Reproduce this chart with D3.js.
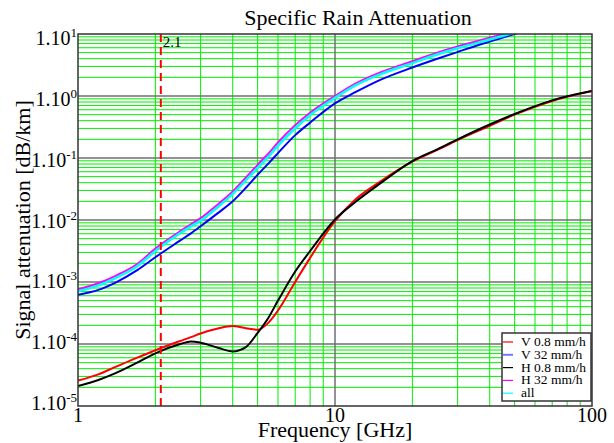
<!DOCTYPE html>
<html>
<head>
<meta charset="UTF-8">
<title>Specific Rain Attenuation</title>
<script src="https://d3js.org/d3.v7.min.js"></script>
<style>
  body { margin: 0; background: #fff; }
  svg { display: block; font-family: "Liberation Serif", "Times New Roman", serif; }
</style>
</head>
<body>
<div id="chart"></div>
<script>
// frequency grid [GHz]
const freq = [1, 1.2, 1.4, 1.7, 2, 2.5, 2.75, 3, 3.5, 4, 4.5, 5, 5.5, 6, 7, 8, 10, 12, 15, 20, 25, 30, 40, 50, 70, 100];

// specific attenuation [dB/km]
const v08 = [2.57e-5, 3.24e-5, 4.27e-5, 6.03e-5, 7.94e-5, 1.12e-4, 1.29e-4, 1.48e-4, 1.78e-4, 1.95e-4, 1.8e-4, 1.7e-4, 2.19e-4, 3.47e-4, 1.0e-3, 2.45e-3, 9.55e-3, 0.0214, 0.0417, 0.0871, 0.135, 0.195, 0.331, 0.501, 0.832, 1.2];
const v32 = [6.2e-4, 7.45e-4, 9.8e-4, 1.55e-3, 2.51e-3, 4.68e-3, 6.1e-3, 7.94e-3, 0.0129, 0.02, 0.0331, 0.0537, 0.0813, 0.12, 0.234, 0.372, 0.762, 1.15, 1.82, 2.88, 3.98, 5.13, 7.59, 10.0, 14.8, 22.4];
const h08 = [2.1e-5, 2.63e-5, 3.39e-5, 5.01e-5, 7.08e-5, 1.0e-4, 1.1e-4, 1.05e-4, 8.71e-5, 7.59e-5, 8.91e-5, 1.51e-4, 2.63e-4, 5.01e-4, 1.48e-3, 3.16e-3, 0.0102, 0.0195, 0.0389, 0.0891, 0.138, 0.2, 0.347, 0.513, 0.851, 1.2];
const h32 = [7.62e-4, 9.55e-4, 1.26e-3, 1.95e-3, 3.47e-3, 6.61e-3, 8.5e-3, 0.0107, 0.0178, 0.0288, 0.0484, 0.0776, 0.117, 0.178, 0.339, 0.537, 1.0, 1.58, 2.4, 3.63, 5.01, 6.31, 8.71, 11.2, 16.6, 25.1];
const allPol = [7.08e-4, 8.81e-4, 1.16e-3, 1.8e-3, 3.16e-3, 6.17e-3, 7.9e-3, 9.77e-3, 0.0162, 0.0263, 0.0437, 0.0692, 0.105, 0.158, 0.302, 0.49, 0.933, 1.48, 2.24, 3.39, 4.68, 5.89, 8.13, 10.5, 15.5, 23.4];

const seriesNames = ["V 0.8 mm/h", "V 32 mm/h", "H 0.8 mm/h", "H 32 mm/h", "all"];
const seriesColors = ["#ff0000", "#0000ff", "#000000", "#ff00ff", "#00ffff"];
const legendColors = ["#ff0000", "#7777ff", "#000000", "#ff00ff", "#00ffff"];
const seriesValues = [v08, v32, h08, h32, allPol];

const marker = 2.1;
const xTicks = [1, 10, 100];
const yExponents = [1, 0, -1, -2, -3, -4, -5];

const width = 614, height = 443;
const pLeft = 78, pRight = 592, pTop = 34, pBottom = 406;

const svg = d3.select("#chart").append("svg")
  .attr("width", width).attr("height", height);

const x = d3.scaleLog().domain([1, 100]).range([pLeft, pRight]);
const y = d3.scaleLog().domain([1e-5, 10]).range([pBottom, pTop]);

// minor grid (2..9 in every decade)
const minorX = [], minorY = [];
for (let d = 1; d <= 10; d *= 10) for (let k = 2; k <= 9; k++) minorX.push(k * d);
for (let e = -5; e < 1; e++) for (let k = 2; k <= 9; k++) minorY.push(k * Math.pow(10, e));

const grid = svg.append("g");
grid.selectAll(".mx").data(minorX).join("line")
  .attr("x1", d => x(d)).attr("x2", d => x(d))
  .attr("y1", pTop).attr("y2", pBottom)
  .attr("stroke", "#00ee00").attr("stroke-width", 1);
grid.selectAll(".my").data(minorY).join("line")
  .attr("y1", d => y(d)).attr("y2", d => y(d))
  .attr("x1", pLeft).attr("x2", pRight)
  .attr("stroke", "#00ee00").attr("stroke-width", 1);

// decade lines
grid.selectAll(".Mx").data([10]).join("line")
  .attr("x1", d => x(d)).attr("x2", d => x(d))
  .attr("y1", pTop).attr("y2", pBottom)
  .attr("stroke", "#6f6f6f").attr("stroke-width", 1.5);
grid.selectAll(".My").data(yExponents.slice(1, -1)).join("line")
  .attr("y1", e => y(Math.pow(10, e))).attr("y2", e => y(Math.pow(10, e)))
  .attr("x1", pLeft).attr("x2", pRight)
  .attr("stroke", "#6f6f6f").attr("stroke-width", 1.5);

// curves
svg.append("clipPath").attr("id", "clip")
  .append("rect").attr("x", pLeft).attr("y", pTop)
  .attr("width", pRight - pLeft).attr("height", pBottom - pTop);

const line = d3.line()
  .x(d => x(d[0])).y(d => y(d[1]))
  .curve(d3.curveMonotoneX);

svg.append("g").attr("clip-path", "url(#clip)")
  .selectAll("path").data(seriesValues).join("path")
  .attr("d", vals => line(freq.map((f, i) => [f, vals[i]])))
  .attr("fill", "none")
  .attr("stroke", (d, i) => seriesColors[i])
  .attr("stroke-width", (d, i) => i === 4 ? 2.5 : 2);

// marker at 2.1 GHz
svg.append("line")
  .attr("x1", x(marker)).attr("x2", x(marker))
  .attr("y1", pTop).attr("y2", pBottom)
  .attr("stroke", "#ff0000").attr("stroke-width", 2)
  .attr("stroke-dasharray", "8,5");
svg.append("text")
  .attr("x", x(marker) + 2).attr("y", pTop + 13)
  .attr("font-size", 15).text(marker);

// frame
svg.append("rect")
  .attr("x", pLeft).attr("y", pTop)
  .attr("width", pRight - pLeft).attr("height", pBottom - pTop)
  .attr("fill", "none").attr("stroke", "#333").attr("stroke-width", 1.5);

// x tick labels
svg.selectAll(".xt").data(xTicks).join("text")
  .attr("x", d => x(d)).attr("y", 422)
  .attr("text-anchor", "middle").attr("font-size", 20)
  .text(d => d);

// y tick labels "1.10^n"
const labelY = d3.scaleLinear().domain([1, -5]).range([45, 410]);
const yt = svg.selectAll(".yt").data(yExponents).join("text")
  .attr("x", 77).attr("y", e => labelY(e))
  .attr("text-anchor", "end").attr("font-size", 20);
yt.append("tspan").text("1.10");
yt.append("tspan").attr("dy", -8).attr("font-size", 13).text(e => e);

// titles
svg.append("text")
  .attr("x", 358).attr("y", 25)
  .attr("text-anchor", "middle").attr("font-size", 22)
  .text("Specific Rain Attenuation");
svg.append("text")
  .attr("x", (pLeft + pRight) / 2).attr("y", 437)
  .attr("text-anchor", "middle").attr("font-size", 22)
  .text("Frequency [GHz]");
svg.append("text")
  .attr("transform", `translate(30,${(pTop + pBottom) / 2}) rotate(-90)`)
  .attr("text-anchor", "middle").attr("font-size", 22)
  .text("Signal attenuation [dB/km]");

// legend
const lg = svg.append("g").attr("transform", "translate(502,333)");
lg.append("rect")
  .attr("width", 89).attr("height", 68)
  .attr("fill", "#fff").attr("stroke", "#333").attr("stroke-width", 1.5);
const row = lg.selectAll(".row").data(seriesNames).join("g")
  .attr("transform", (d, i) => `translate(0,${13 + i * 12.8})`);
row.append("line")
  .attr("x1", 1).attr("x2", 11).attr("y1", -4).attr("y2", -4)
  .attr("stroke", (d, i) => legendColors[i]).attr("stroke-width", (d, i) => i === 1 ? 2 : 1.2);
row.append("text")
  .attr("x", 19).attr("font-size", 13.5)
  .text(d => d);
</script>
</body>
</html>
